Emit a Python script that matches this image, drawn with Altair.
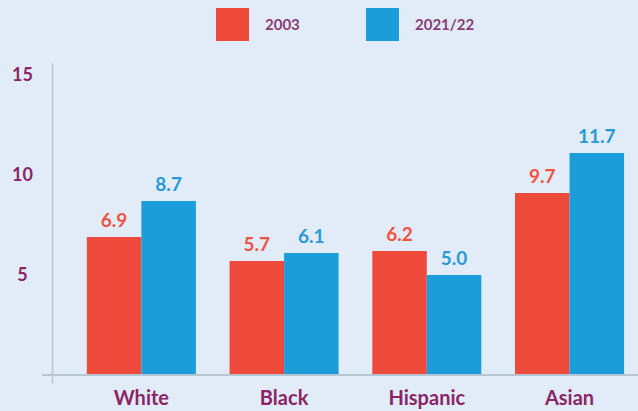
import altair as alt
import pandas as pd

races = ["White", "Black", "Hispanic", "Asian"]
years = ["2003", "2021/22"]
# bar heights as drawn in the picture
heights_2003 = [6.9, 5.7, 6.2, 9.1]
heights_2122 = [8.7, 6.1, 5.0, 11.1]
# printed value labels
labels_2003 = ["6.9", "5.7", "6.2", "9.7"]
labels_2122 = ["8.7", "6.1", "5.0", "11.7"]
colors = ["#EE4A3B", "#1B9DD9"]
label_colors = ["#EE5343", "#2A9AD3"]

rows = []
for r, a, b, la, lb in zip(races, heights_2003, heights_2122, labels_2003, labels_2122):
    rows.append({"race": r, "year": years[0], "value": a, "label": la})
    rows.append({"race": r, "year": years[1], "value": b, "label": lb})
df = pd.DataFrame(rows)

FONT = "Lato"
TXT = "#8A2566"
W, H = 586, 320

x = alt.X("race:N", sort=races, title=None,
          scale=alt.Scale(paddingInner=0.236, paddingOuter=0.171, align=0.714),
          axis=alt.Axis(domain=False, ticks=False, labelAngle=0, labelPadding=5,
                        labelFont=FONT, labelFontSize=20, labelFontWeight="bold",
                        labelColor=TXT))
xo = alt.XOffset("year:N", sort=years, scale=alt.Scale(paddingInner=0, paddingOuter=0))
y = alt.Y("value:Q", title=None,
          scale=alt.Scale(domain=[-0.4, 15.6], nice=False, zero=False),
          axis=alt.Axis(values=[5, 10, 15], grid=False, ticks=False, tickSize=0,
                        domainColor="#B9C5D2", domainWidth=1.5,
                        labelAlign="center", labelPadding=30, labelBaseline="middle",
                        labelFont=FONT, labelFontSize=18, labelFontWeight="bold",
                        labelColor=TXT))

bars = alt.Chart(df).mark_bar().encode(
    x=x, xOffset=xo, y=y,
    y2=alt.datum(0),
    color=alt.Color("year:N", sort=years,
                    scale=alt.Scale(domain=years, range=colors),
                    legend=alt.Legend(title=None, orient="none", legendX=164, legendY=-55,
                                      direction="horizontal", symbolType="square",
                                      symbolSize=1089, symbolStrokeWidth=0,
                                      padding=0, labelOffset=16, columnPadding=66,
                                      labelFont=FONT, labelFontSize=15,
                                      labelFontWeight="bold", labelColor="#8A3B74")),
)

text = alt.Chart(df).mark_text(
    baseline="alphabetic", dy=-10, font=FONT, fontSize=19, fontWeight="bold"
).encode(
    x=alt.X("race:N", sort=races),
    xOffset=alt.XOffset("year:N", sort=years),
    y=alt.Y("value:Q"),
    text="label:N",
    color=alt.Color("year:N", sort=years,
                    scale=alt.Scale(domain=years, range=label_colors), legend=None),
)

base = alt.Chart(df).mark_rule(color="#B9C5D2", strokeWidth=1.5).encode(
    y=alt.datum(0), x=alt.value(-10), x2=alt.value(W)
)

chart = alt.layer(bars, base, text).resolve_scale(color="independent").properties(
    width=W, height=H,
    autosize=alt.AutoSizeParams(type="none"),
    padding={"left": 52, "top": 63, "right": 0, "bottom": 28},
    background="#E1ECF8",
).configure_view(strokeWidth=0)

chart.save("out.html", embed_options={"renderer": "svg", "actions": False})
